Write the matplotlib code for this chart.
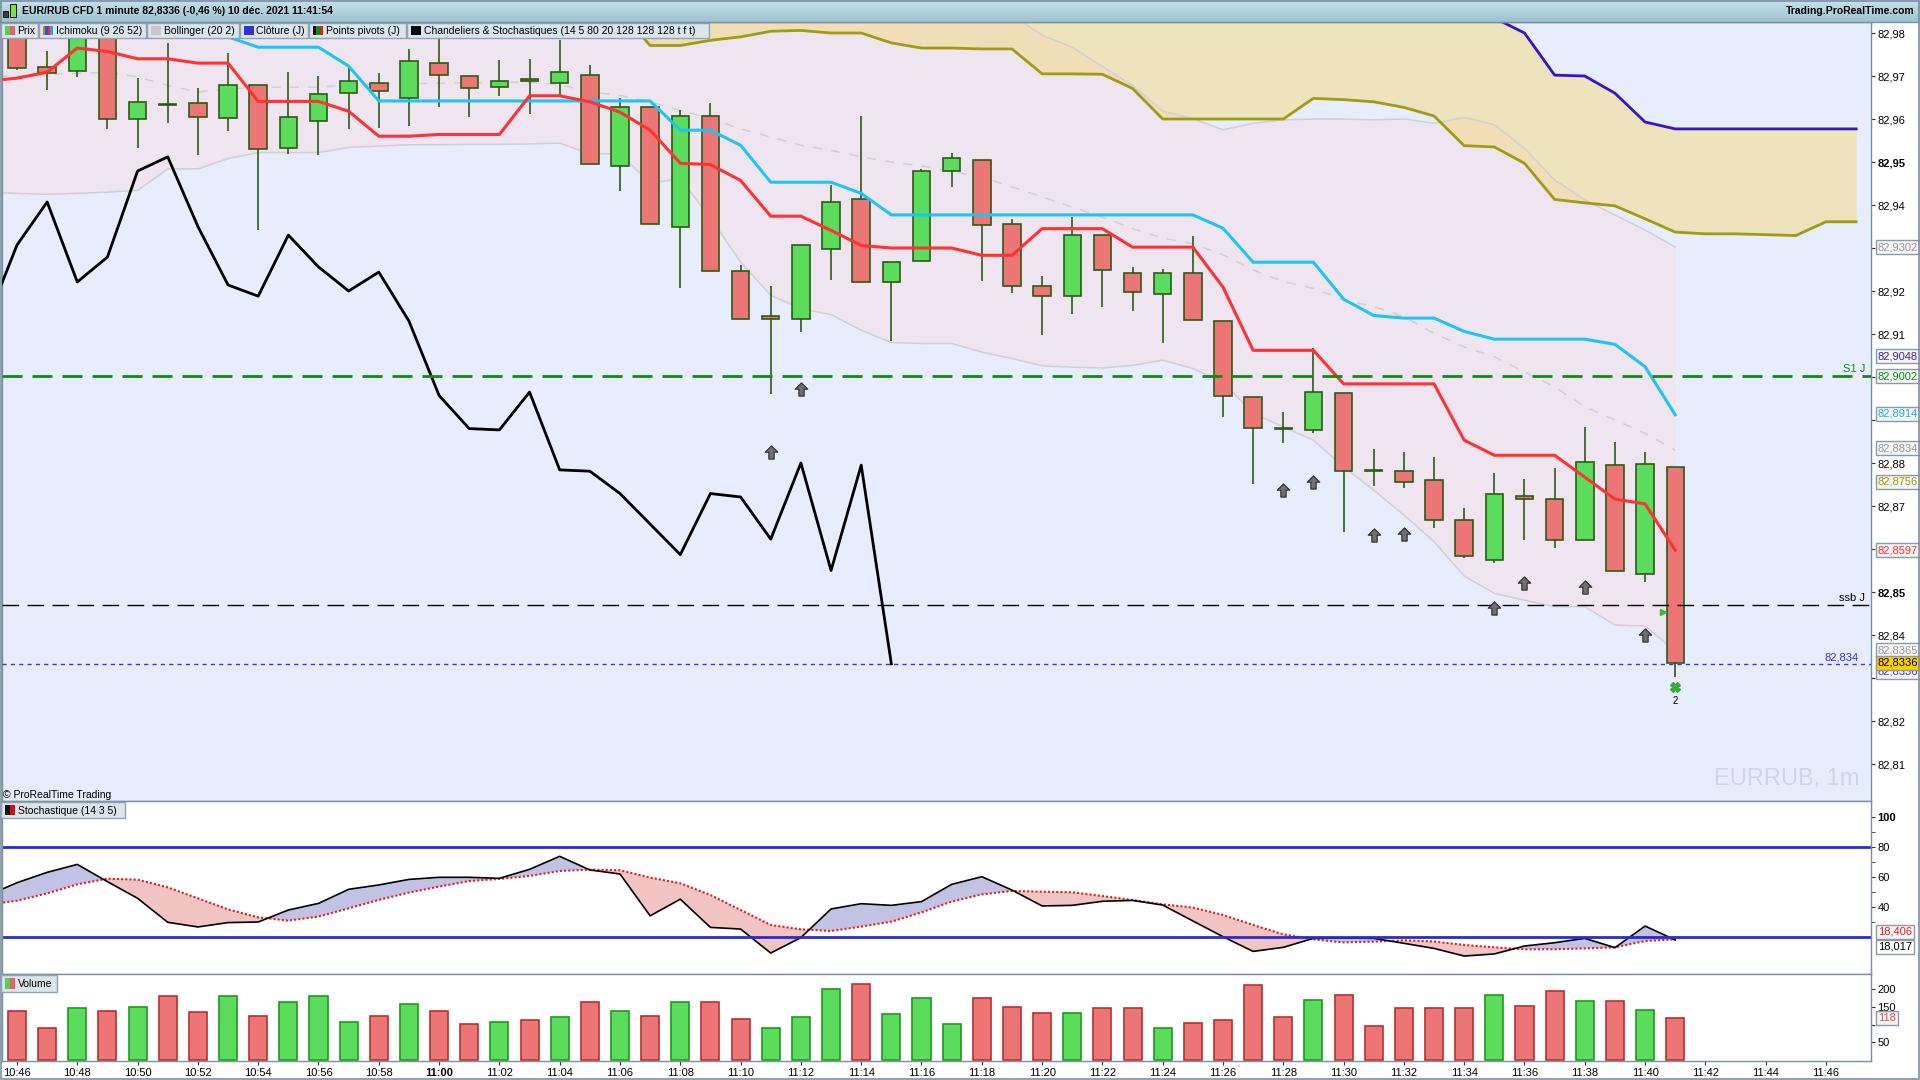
import numpy as np
import matplotlib.pyplot as plt
from matplotlib.path import Path
from matplotlib.patches import Rectangle

plt.rcParams['font.family'] = ['Liberation Sans', 'DejaVu Sans']

# ---------------- data ----------------
time_labels = ['10:46', '10:48', '10:50', '10:52', '10:54', '10:56', '10:58', '11:00',
               '11:02', '11:04', '11:06', '11:08', '11:10', '11:12', '11:14', '11:16',
               '11:18', '11:20', '11:22', '11:24', '11:26', '11:28', '11:30', '11:32',
               '11:34', '11:36', '11:38', '11:40', '11:42', '11:44', '11:46']

# 1-minute candles 10:46 .. 11:41
opens = [82.9850, 82.9720, 82.9711, 82.9850, 82.9599, 82.9634, 82.9637, 82.9602, 82.9678, 82.9532,
         82.9595, 82.9660, 82.9683, 82.9650, 82.9730, 82.9699, 82.9674, 82.9692, 82.9683, 82.9702,
         82.9490, 82.9627, 82.9350, 82.9606, 82.9246, 82.9141, 82.9134, 82.9298, 82.9413, 82.9220,
         82.9269, 82.9478, 82.9504, 82.9357, 82.9211, 82.9188, 82.9330, 82.9241, 82.9192, 82.9241,
         82.9130, 82.8953, 82.8881, 82.8876, 82.8962, 82.8783, 82.8781, 82.8760, 82.8667, 82.8574,
         82.8723, 82.8716, 82.8622, 82.8795, 82.8543, 82.8790]
highs = [82.9870, 82.9758, 82.9830, 82.9870, 82.9695, 82.9777, 82.9672, 82.9753, 82.9678, 82.9709,
         82.9700, 82.9721, 82.9707, 82.9762, 82.9788, 82.9700, 82.9737, 82.9740, 82.9784, 82.9726,
         82.9650, 82.9627, 82.9621, 82.9637, 82.9260, 82.9211, 82.9306, 82.9447, 82.9606, 82.9267,
         82.9484, 82.9521, 82.9504, 82.9368, 82.9235, 82.9373, 82.9330, 82.9255, 82.9252, 82.9328,
         82.9130, 82.8953, 82.8919, 82.9067, 82.8962, 82.8833, 82.8826, 82.8814, 82.8695, 82.8777,
         82.8763, 82.8788, 82.8884, 82.8849, 82.8826, 82.8790]
lows = [82.9715, 82.9668, 82.9698, 82.9576, 82.9533, 82.9591, 82.9517, 82.9571, 82.9343, 82.9519,
        82.9517, 82.9577, 82.9580, 82.9584, 82.9629, 82.9605, 82.9654, 82.9612, 82.9654, 82.9495,
        82.9433, 82.9357, 82.9208, 82.9247, 82.9134, 82.8961, 82.9105, 82.9226, 82.9220, 82.9084,
        82.9269, 82.9443, 82.9223, 82.9196, 82.9097, 82.9147, 82.9163, 82.9154, 82.9080, 82.9132,
        82.8908, 82.8752, 82.8847, 82.8870, 82.8639, 82.8747, 82.8743, 82.8650, 82.8578, 82.8568,
        82.8622, 82.8603, 82.8622, 82.8549, 82.8524, 82.8303]
closes = [82.9719, 82.9706, 82.9800, 82.9601, 82.9639, 82.9633, 82.9604, 82.9678, 82.9530, 82.9604,
          82.9657, 82.9688, 82.9664, 82.9734, 82.9702, 82.9671, 82.9688, 82.9688, 82.9709, 82.9495,
          82.9627, 82.9357, 82.9606, 82.9247, 82.9134, 82.9135, 82.9306, 82.9406, 82.9220, 82.9267,
          82.9478, 82.9509, 82.9353, 82.9211, 82.9188, 82.9330, 82.9250, 82.9197, 82.9241, 82.9132,
          82.8955, 82.8881, 82.8880, 82.8964, 82.8781, 82.8782, 82.8755, 82.8667, 82.8583, 82.8727,
          82.8716, 82.8620, 82.8802, 82.8549, 82.8797, 82.8336]

volume = [139, 90, 146, 139, 149, 181, 135, 181, 126, 163, 181, 107, 124, 160, 138, 101, 109, 112,
          123, 164, 140, 126, 164, 164, 116, 92, 123, 202, 216, 130, 175, 102, 175, 150, 133, 133,
          147, 147, 92, 105, 112, 212, 123, 171, 185, 95, 147, 147, 147, 185, 154, 195, 168, 168,
          143, 118]
volume_up = ('rrgrgrrgrg' 'ggrgrrgrgr' 'grgrrgggrg' 'ggrrrgrrgr' 'rrrgrrrrrg' 'rrgrgr')

# indicators 10:45 .. 11:41
tenkan = [82.9688, 82.9695, 82.9709, 82.9765, 82.9757, 82.9740, 82.9740, 82.9730, 82.9730, 82.9641,
          82.9641, 82.9641, 82.9618, 82.9560, 82.9560, 82.9564, 82.9564, 82.9564, 82.9654, 82.9654,
          82.9640, 82.9616, 82.9574, 82.9497, 82.9494, 82.9457, 82.9374, 82.9374, 82.9341, 82.9306,
          82.9300, 82.9300, 82.9300, 82.9283, 82.9283, 82.9345, 82.9345, 82.9345, 82.9302, 82.9302,
          82.9302, 82.9209, 82.9062, 82.9062, 82.9062, 82.8984, 82.8984, 82.8984, 82.8984, 82.8853,
          82.8818, 82.8818, 82.8818, 82.8767, 82.8716, 82.8705, 82.8597]
kijun = [82.9800, 82.9800, 82.9800, 82.9800, 82.9800, 82.9800, 82.9800, 82.9800, 82.9791, 82.9767,
         82.9767, 82.9767, 82.9723, 82.9642, 82.9642, 82.9642, 82.9642, 82.9642, 82.9642, 82.9642,
         82.9642, 82.9642, 82.9642, 82.9574, 82.9574, 82.9539, 82.9453, 82.9453, 82.9453, 82.9427,
         82.9377, 82.9377, 82.9377, 82.9377, 82.9377, 82.9377, 82.9377, 82.9377, 82.9377, 82.9377,
         82.9377, 82.9346, 82.9267, 82.9267, 82.9267, 82.9181, 82.9143, 82.9137, 82.9137, 82.9106,
         82.9088, 82.9088, 82.9088, 82.9088, 82.9076, 82.9024, 82.8912]
boll_up = [82.9970, 82.9973, 82.9981, 82.9985, 82.9988, 82.9962, 82.9872, 82.9842, 82.9832, 82.9826,
           82.9826, 82.9826, 82.9826, 82.9825, 82.9824, 82.9826, 82.9827, 82.9829, 82.9830, 82.9816,
           82.9807, 82.9800, 82.9829, 82.9800, 82.9832, 82.9887, 82.9926, 82.9919, 82.9909, 82.9915,
           82.9920, 82.9904, 82.9878, 82.9872, 82.9841, 82.9795, 82.9767, 82.9722, 82.9678, 82.9618,
           82.9601, 82.9575, 82.9590, 82.9598, 82.9600, 82.9600, 82.9598, 82.9600, 82.9590, 82.9604,
           82.9587, 82.9532, 82.9458, 82.9412, 82.9377, 82.9342, 82.9302]
boll_mid = [82.9700, 82.9700, 82.9703, 82.9706, 82.9709, 82.9698, 82.9678, 82.9663, 82.9670, 82.9674,
            82.9674, 82.9674, 82.9680, 82.9681, 82.9682, 82.9683, 82.9684, 82.9685, 82.9686, 82.9680,
            82.9663, 82.9655, 82.9640, 82.9620, 82.9601, 82.9577, 82.9558, 82.9539, 82.9527, 82.9512,
            82.9500, 82.9491, 82.9478, 82.9465, 82.9442, 82.9419, 82.9395, 82.9372, 82.9345, 82.9323,
            82.9310, 82.9284, 82.9249, 82.9222, 82.9206, 82.9179, 82.9164, 82.9140, 82.9102, 82.9070,
            82.9047, 82.9012, 82.8977, 82.8931, 82.8900, 82.8869, 82.8830]
boll_low = [82.9430, 82.9427, 82.9425, 82.9427, 82.9430, 82.9434, 82.9484, 82.9484, 82.9508, 82.9522,
            82.9522, 82.9522, 82.9534, 82.9537, 82.9540, 82.9540, 82.9541, 82.9541, 82.9542, 82.9544,
            82.9519, 82.9519, 82.9451, 82.9461, 82.9370, 82.9267, 82.9190, 82.9159, 82.9145, 82.9109,
            82.9080, 82.9078, 82.9078, 82.9058, 82.9043, 82.9026, 82.9023, 82.9021, 82.9027, 82.9039,
            82.9020, 82.8987, 82.8916, 82.8884, 82.8853, 82.8791, 82.8737, 82.8679, 82.8617, 82.8537,
            82.8497, 82.8481, 82.8466, 82.8466, 82.8423, 82.8421, 82.8362]
# "Chandeliers & Stochastiques" line, 10:45 .. 11:15
chand_line = [82.9130, 82.9307, 82.9407, 82.9221, 82.9279, 82.9479, 82.9512, 82.9350, 82.9214, 82.9188,
              82.9330, 82.9256, 82.9200, 82.9244, 82.9130, 82.8957, 82.8880, 82.8877, 82.8965, 82.8784,
              82.8781, 82.8729, 82.8658, 82.8587, 82.8729, 82.8721, 82.8623, 82.8800, 82.8550, 82.8795,
              82.8333]
# Ichimoku cloud, 10:46 .. 11:47
span_a = [82.9870] * 20 + [82.9850, 82.9771, 82.9771, 82.9783, 82.9791, 82.9804, 82.9806, 82.9800,
                            82.9800, 82.9777, 82.9765, 82.9765, 82.9763, 82.9763, 82.9705, 82.9705,
                            82.9704, 82.9671, 82.9600, 82.9600, 82.9600, 82.9600, 82.9600, 82.9648,
                            82.9645, 82.9640, 82.9627, 82.9607, 82.9538, 82.9535, 82.9497, 82.9413,
                            82.9405, 82.9398, 82.9368, 82.9337, 82.9333, 82.9333, 82.9331, 82.9329,
                            82.9361, 82.9361]
span_b = [82.9950] * 48 + [82.9880, 82.9835, 82.9800, 82.9702, 82.9700, 82.9660, 82.9593, 82.9577,
                            82.9577, 82.9577, 82.9577, 82.9577, 82.9577, 82.9577]

# stochastic (14 3 5), 10:45 .. 11:41
stoch_k = [47.5, 56.2, 63.1, 68.4, 56.9, 45.8, 29.8, 26.7, 29.6, 30.0, 38.0, 42.4, 51.8, 54.7, 58.4,
           59.8, 59.8, 59.1, 65.1, 73.8, 64.7, 62.0, 34.1, 45.2, 26.4, 25.3, 9.3, 19.6, 38.7, 42.2,
           41.1, 43.6, 55.1, 60.2, 51.3, 40.7, 41.1, 43.8, 44.4, 41.3, 30.7, 20.2, 10.4, 13.1, 19.1,
           19.3, 19.1, 15.8, 12.4, 7.3, 8.7, 14.0, 16.2, 19.1, 12.9, 27.3, 18.0]
stoch_d = [41.5, 44.2, 49.1, 55.1, 58.9, 58.2, 53.1, 45.8, 38.4, 33.1, 30.9, 33.6, 39.1, 44.7, 49.6,
           53.6, 57.3, 58.7, 60.7, 64.0, 64.9, 64.5, 59.6, 55.8, 48.0, 38.0, 28.0, 25.1, 24.0, 26.9,
           30.2, 36.4, 43.6, 48.4, 50.7, 50.2, 49.8, 47.3, 44.7, 41.8, 39.6, 34.7, 28.0, 21.8, 18.4,
           16.4, 16.9, 17.8, 17.0, 14.7, 13.1, 11.8, 11.8, 12.4, 13.1, 17.3, 18.4]

# pattern arrows (candle index, price)
arrow_idx = [25, 26, 42, 43, 45, 46, 49, 50, 52, 54]
arrow_px = [82.8826, 82.8973, 82.8737, 82.8757, 82.8633, 82.8634, 82.8462, 82.8520, 82.8512, 82.8400]

s1_level = 82.9002
ssb_level = 82.8470
last_level = 82.8333

# right-hand boxed values: (price, text, text colour, box colour)
price_tags = [(82.9302, '82,9302', '#9a9a9a', '#f5f5f5'),
              (82.9048, '82,9048', '#3a1fd0', '#f5f5f5'),
              (82.9002, '82,9002', '#138a13', '#f5f5f5'),
              (82.8914, '82,8914', '#12b4ee', '#f5f5f5'),
              (82.8834, '82,8834', '#9a9a9a', '#f5f5f5'),
              (82.8756, '82,8756', '#a0a000', '#f5f5f5'),
              (82.8597, '82,8597', '#ff3030', '#f5f5f5'),
              (82.8314, '82,8336', '#3a3ae0', '#f5f5f5'),
              (82.8365, '82,8365', '#9a9a9a', '#f5f5f5'),
              (82.8336, '82,8336', '#000000', '#ffcc00')]

# ---------------- layout ----------------
W, H = 1920, 1080
fig = plt.figure(figsize=(19.2, 10.8), dpi=100)
fig.patch.set_facecolor('white')

def fx(px):
    return px / W

def fy(py):
    return 1 - py / H

L, R = 2, 1871
ax = fig.add_axes([fx(L), fy(801), fx(R - L), fy(22) - fy(801)])
ax_st = fig.add_axes([fx(L), fy(974), fx(R - L), fy(801) - fy(974)])
ax_v = fig.add_axes([fx(L), fy(1061), fx(R - L), fy(974) - fy(1061)])

xlim = ((L - 17) / 30.15, (R - 17) / 30.15)
frame = '#7a8fa0'
for a in (ax, ax_st, ax_v):
    a.set_xlim(*xlim)
    for s in a.spines.values():
        s.set_color(frame)
        s.set_linewidth(1)
    a.yaxis.tick_right()
    a.tick_params(axis='y', direction='out', length=3, pad=1.5, labelsize=8,
                  color='#333333', labelcolor='black')
    a.tick_params(axis='x', bottom=False, labelbottom=False)

ix = np.arange(-1, 56)
cx = np.arange(0, 56)
kx = np.arange(0, 62)
bx = np.arange(-1, 30)

# ---------------- price panel ----------------
ax.set_facecolor('#e7edfc')
ax.set_ylim(82.8014, 82.98256)

ax.fill_between(ix, boll_low, boll_up, color='#f5dfe6', alpha=0.5, lw=0, zorder=1)
ax.fill_between(kx, span_a, span_b, color='#f6d772', alpha=0.45, lw=0, zorder=1.5)
ax.plot(ix, boll_up, color='#cfcfd8', lw=1.1, zorder=2)
ax.plot(ix, boll_low, color='#cfcfd8', lw=1.1, zorder=2)
ax.plot(ix, boll_mid, color='#cfcfd8', lw=1.1, ls=(0, (6, 6)), zorder=2)
ax.plot(kx, span_a, color='#9e9c12', lw=2, zorder=2.5)
ax.plot(kx, span_b, color='#3a12c8', lw=2, zorder=2.5)

# candles
o = np.array(opens)
c = np.array(closes)
up = c >= o
body_lo = np.minimum(o, c)
body_h = np.abs(c - o)
edge = '#2d5a14'
ax.vlines(cx, lows, highs, color=edge, lw=1.2, zorder=4)
ax.bar(cx, body_h, bottom=body_lo, width=0.58,
       color=np.where(up, '#5cdc5c', '#ec7676'), edgecolor=edge, lw=1.2, zorder=4.5)

ax.plot(bx, chand_line, color='black', lw=2, zorder=5)
ax.plot(ix, kijun, color='#1ec4f4', lw=2.2, zorder=5)
ax.plot(ix, tenkan, color='#ff3232', lw=2.2, zorder=5)

ax.axhline(s1_level, color='#138a13', lw=2, ls=(0, (7.2, 3.6)), zorder=5)
ax.axhline(ssb_level, color='black', lw=1, ls=(0, (12, 6)), zorder=5)
ax.axhline(last_level, color='#3434e8', lw=1, ls=(0, (3, 3)), zorder=5)

arrow = Path([(0, 1), (0.95, 0.05), (0.4, 0.05), (0.4, -1), (-0.4, -1), (-0.4, 0.05),
              (-0.95, 0.05), (0, 1)],
             [Path.MOVETO] + [Path.LINETO] * 6 + [Path.CLOSEPOLY])
ax.plot(arrow_idx, arrow_px, ls='none', marker=arrow, ms=9.5, mfc='#707070', mec='#2a2a2a',
        mew=0.8, zorder=6)
ax.plot([54.6], [82.8454], ls='none', marker='>', ms=5, color='#2fbf2f', zorder=6)
ax.plot([55], [82.8280], ls='none', marker='X', ms=7, color='#30b030', zorder=6)
ax.text(55, 82.8247, '2', fontsize=7, ha='center', va='center', zorder=6)

ytr = ax.get_yaxis_transform()
ax.text(1 - 6 / 1869, s1_level + 0.0004, 'S1 J', color='#138a13', fontsize=8, ha='right',
        va='bottom', transform=ytr, zorder=6)
ax.text(1 - 6 / 1869, ssb_level + 0.0004, 'ssb J', color='black', fontsize=8, ha='right',
        va='bottom', transform=ytr, zorder=6)
ax.text(1 - 12 / 1869, last_level + 0.0004, '82,834', color='#3434e8', fontsize=8, ha='right',
        va='bottom', transform=ytr, zorder=6)
ax.text(1 - 12 / 1869, 82.8065, 'EURRUB, 1m', color='#cdd5ea', fontsize=17, ha='right',
        va='center', transform=ytr, zorder=1)

# tick labels that sit under a boxed value are not visible in the chart
pticks = [82.81, 82.82, 82.83, 82.84, 82.85, 82.86, 82.87, 82.88, 82.89,
          82.90, 82.91, 82.92, 82.93, 82.94, 82.95, 82.96, 82.97, 82.98]
hidden = ('82,83', '82,86', '82,89', '82,90', '82,93')
plabels = [f'{v:.2f}'.replace('.', ',') for v in pticks]
ax.set_yticks(pticks, labels=['' if t in hidden else t for t in plabels])
for lbl in ax.get_yticklabels():
    if lbl.get_text() in ('82,95', '82,85'):
        lbl.set_fontweight('bold')

for p, txt, tc, bc in price_tags:
    ax.text(1 + 7 / 1869, p, txt, color=tc, fontsize=8, ha='left', va='center',
            transform=ytr, zorder=10,
            bbox=dict(boxstyle='square,pad=0.18', fc=bc, ec='#8a9aa8', lw=1))

# ---------------- stochastic panel ----------------
ax_st.set_facecolor('white')
ax_st.set_ylim(-4.67, 110.67)
k = np.array(stoch_k)
d = np.array(stoch_d)
ax_st.fill_between(ix, k, d, where=k >= d, interpolate=True, color='#c2c2e4', lw=0)
ax_st.fill_between(ix, k, d, where=k < d, interpolate=True, color='#f2c4c4', lw=0)
ax_st.plot(ix, d, color='#e02020', lw=1.5, ls=(0, (1, 1)))
ax_st.plot(ix, k, color='black', lw=1.2)
ax_st.axhline(80, color='#2a2ad2', lw=2)
ax_st.axhline(20, color='#2a2ad2', lw=2)
ax_st.set_yticks([40, 60, 80, 100], labels=['40', '60', '80', '100'])
ax_st.set_yticks([30, 50, 70, 90], minor=True)
ax_st.tick_params(axis='y', which='minor', length=3, color='#333333')
ax_st.get_yticklabels()[-1].set_fontweight('bold')
st_tr = ax_st.get_yaxis_transform()
ax_st.text(1 + 7 / 1869, 23.6, '18,406', color='#e02020', fontsize=8, va='center',
           transform=st_tr, zorder=10,
           bbox=dict(boxstyle='square,pad=0.18', fc='#f5f5f5', ec='#8a9aa8', lw=1))
ax_st.text(1 + 7 / 1869, 13.4, '18,017', color='black', fontsize=8, va='center',
           transform=st_tr, zorder=10,
           bbox=dict(boxstyle='square,pad=0.18', fc='white', ec='#8a9aa8', lw=1))

# ---------------- volume panel ----------------
ax_v.set_facecolor('white')
ax_v.set_ylim(-2.8, 243.6)
vup = np.array([ch == 'g' for ch in volume_up])
ax_v.bar(cx, volume, width=0.6, color=np.where(vup, '#5cdc5c', '#ec7676'),
         edgecolor=np.where(vup, '#1e9a1e', '#b83030'), lw=1.2)
ax_v.set_yticks([50, 100, 150, 200], labels=['50', '', '150', '200'])
ax_v.text(1 + 7 / 1869, 118, '118', color='#e05050', fontsize=8, va='center',
          transform=ax_v.get_yaxis_transform(), zorder=10,
          bbox=dict(boxstyle='square,pad=0.18', fc='#f5f5f5', ec='#8a9aa8', lw=1))
ax_v.tick_params(axis='x', bottom=True, labelbottom=True, direction='out', length=3,
                 pad=2, labelsize=8, color='#333333')
ax_v.set_xticks(np.arange(0, 61, 2), labels=time_labels)
for lbl in ax_v.get_xticklabels():
    if lbl.get_text() == '11:00':
        lbl.set_fontweight('bold')

# ---------------- window chrome (pixel overlay) ----------------
ov = fig.add_axes([0, 0, 1, 1], zorder=20)
ov.patch.set_alpha(0)
ov.axis('off')
grad = np.linspace(0, 1, 22).reshape(-1, 1)
ov.imshow(grad, extent=[0, W, 22, 0], cmap=plt.matplotlib.colors.LinearSegmentedColormap.from_list(
    'bar', ['#c6e1ea', '#9ec2cf']), aspect='auto', interpolation='bilinear')
ov.set_xlim(0, W)
ov.set_ylim(H, 0)
ov.plot([0, W], [22, 22], color=frame, lw=1)
ov.add_patch(Rectangle((0.5, 0.5), W - 1.5, H - 1.5, fill=False, ec=frame, lw=1.2))

# title icon
ov.add_patch(Rectangle((3, 11), 5, 6, fc='#404040', ec='black', lw=0.6))
ov.add_patch(Rectangle((10, 4), 6, 13, fc='#7ee04a', ec='black', lw=0.6))
ov.text(22, 11.5, 'EUR/RUB CFD 1 minute 82,8336 (-0,46 %) 10 déc. 2021 11:41:54',
        fontsize=7.5, fontweight='bold', va='center', ha='left')
ov.text(W - 5, 11.5, 'Trading.ProRealTime.com', fontsize=7.5, fontweight='bold',
        va='center', ha='right')


def ui_box(x0, x1, y0, y1, icon, text):
    ov.add_patch(Rectangle((x0, y0), x1 - x0, y1 - y0, fc='#dbe5eb', ec='#8fa3b3', lw=1))
    n = len(icon)
    w = 10 / n
    for j, col in enumerate(icon):
        ov.add_patch(Rectangle((x0 + 4 + j * w, y0 + 3), w, y1 - y0 - 6, fc=col, ec='none'))
    ov.text(x0 + 17, (y0 + y1) / 2 + 0.5, text, fontsize=7.5, va='center', ha='left')


ui_box(0.5, 37.5, 22.5, 38, ['#58cc58', '#e86060'], 'Prix')
ui_box(38.5, 145.5, 22.5, 38, ['#d07a20', '#3050e0', '#e03030', '#30a0e0'], 'Ichimoku (9 26 52)')
ui_box(146.5, 238.5, 22.5, 38, ['#c8c8c8'], 'Bollinger (20 2)')
ui_box(239.5, 308, 22.5, 38, ['#3030e0'], 'Clôture (J)')
ui_box(309, 406, 22.5, 38, ['#101010', '#138a13', '#e02020'], 'Points pivots (J)')
ui_box(407, 709, 22.5, 38, ['#000000'], 'Chandeliers & Stochastiques (14 5 80 20 128 128 128 t f t)')
ui_box(0.5, 125, 802, 818, ['#101010', '#d01010'], 'Stochastique (14 3 5)')
ui_box(0.5, 57, 975, 991.5, ['#58cc58', '#e86060'], 'Volume')
ov.text(3, 795, '© ProRealTime Trading', fontsize=7.5, va='center', ha='left')

fig.savefig('out.png', dpi=100)
